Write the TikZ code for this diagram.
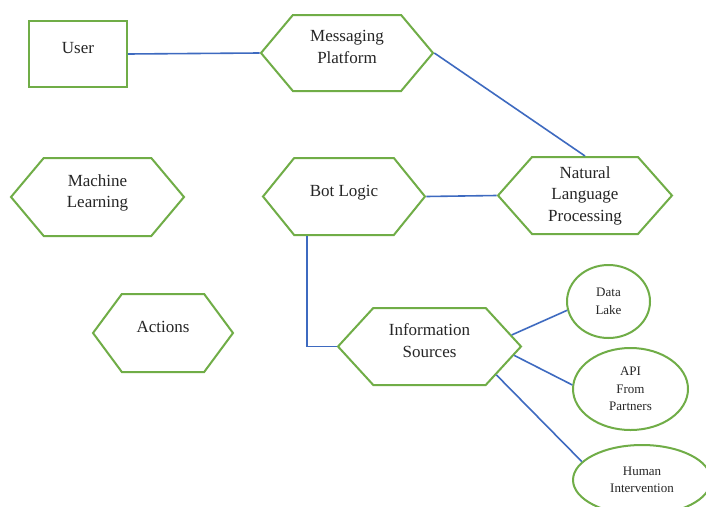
\documentclass[tikz,border=0pt]{standalone}
\usepackage{fontspec}
\setmainfont{Liberation Serif}
\usetikzlibrary{shapes.symbols,shapes.geometric}
\definecolor{boxgreen}{RGB}{112,173,71}
\definecolor{linkblue}{RGB}{62,106,192}
\newcommand{\lowstrut}{\rule[-12pt]{0pt}{0pt}}

\begin{document}
\begin{tikzpicture}[x=1pt, y=-1pt,
  every node/.style={text=black!85, align=center, font=\fontsize{17}{21.5}\selectfont},
  block/.style={rectangle, draw=boxgreen, line width=2pt},
  hexa/.style={signal, signal to=east and west, signal pointer angle=100, draw=boxgreen, line width=2pt, minimum height=77pt},
  source/.style={ellipse, draw=boxgreen, line width=2pt, inner sep=0pt, font=\fontsize{13}{17.5}\selectfont},
  link/.style={draw=linkblue, line width=1.6pt}]
\clip (0,0) rectangle (706,506);
\fill[white] (0,0) rectangle (706,506);

\node[block, minimum width=98pt, minimum height=66pt] (user) at (78,54) {User\lowstrut};
\node[hexa, minimum width=172pt, minimum height=76pt] (msg) at (347,53) {Messaging\\Platform\lowstrut};
\node[hexa, signal pointer angle=97, minimum width=174pt] (nlp) at (585,195.5) {Natural\\Language\\Processing};
\node[hexa, signal pointer angle=102, minimum width=162pt] (bot) at (344,196.5) {Bot Logic\lowstrut};
\node[hexa, minimum width=173pt, minimum height=78pt] (ml) at (97.5,197) {Machine\\Learning\lowstrut};
\node[hexa, signal pointer angle=107, minimum width=140pt, minimum height=78pt] (act) at (163,333) {Actions\lowstrut};
\node[hexa, signal pointer angle=95, minimum width=183pt] (info) at (429.5,346.5) {Information\\Sources\lowstrut};

\node[source, minimum width=83pt, minimum height=73pt] (lake) at (608.5,301.5) {Data\\Lake};
\node[source, minimum width=115pt, minimum height=82pt] (api) at (630.5,389) {API\\From\\Partners};
\node[source, minimum width=138pt, minimum height=70pt] (human) at (642,480) {Human\\Intervention};

\draw[link] (user.east) -- (msg.west);
\draw[link] (msg.east) -- (nlp.north);
\draw[link] (bot.east) -- (nlp.west);
\draw[link] ([xshift=-37pt]bot.south) |- (info.west);
\draw[link] (info.8) -- (lake.192);
\draw[link] (info.-6) -- (api.176);
\draw[link] (info.-23) -- (human.163);

\end{tikzpicture}
\end{document}
